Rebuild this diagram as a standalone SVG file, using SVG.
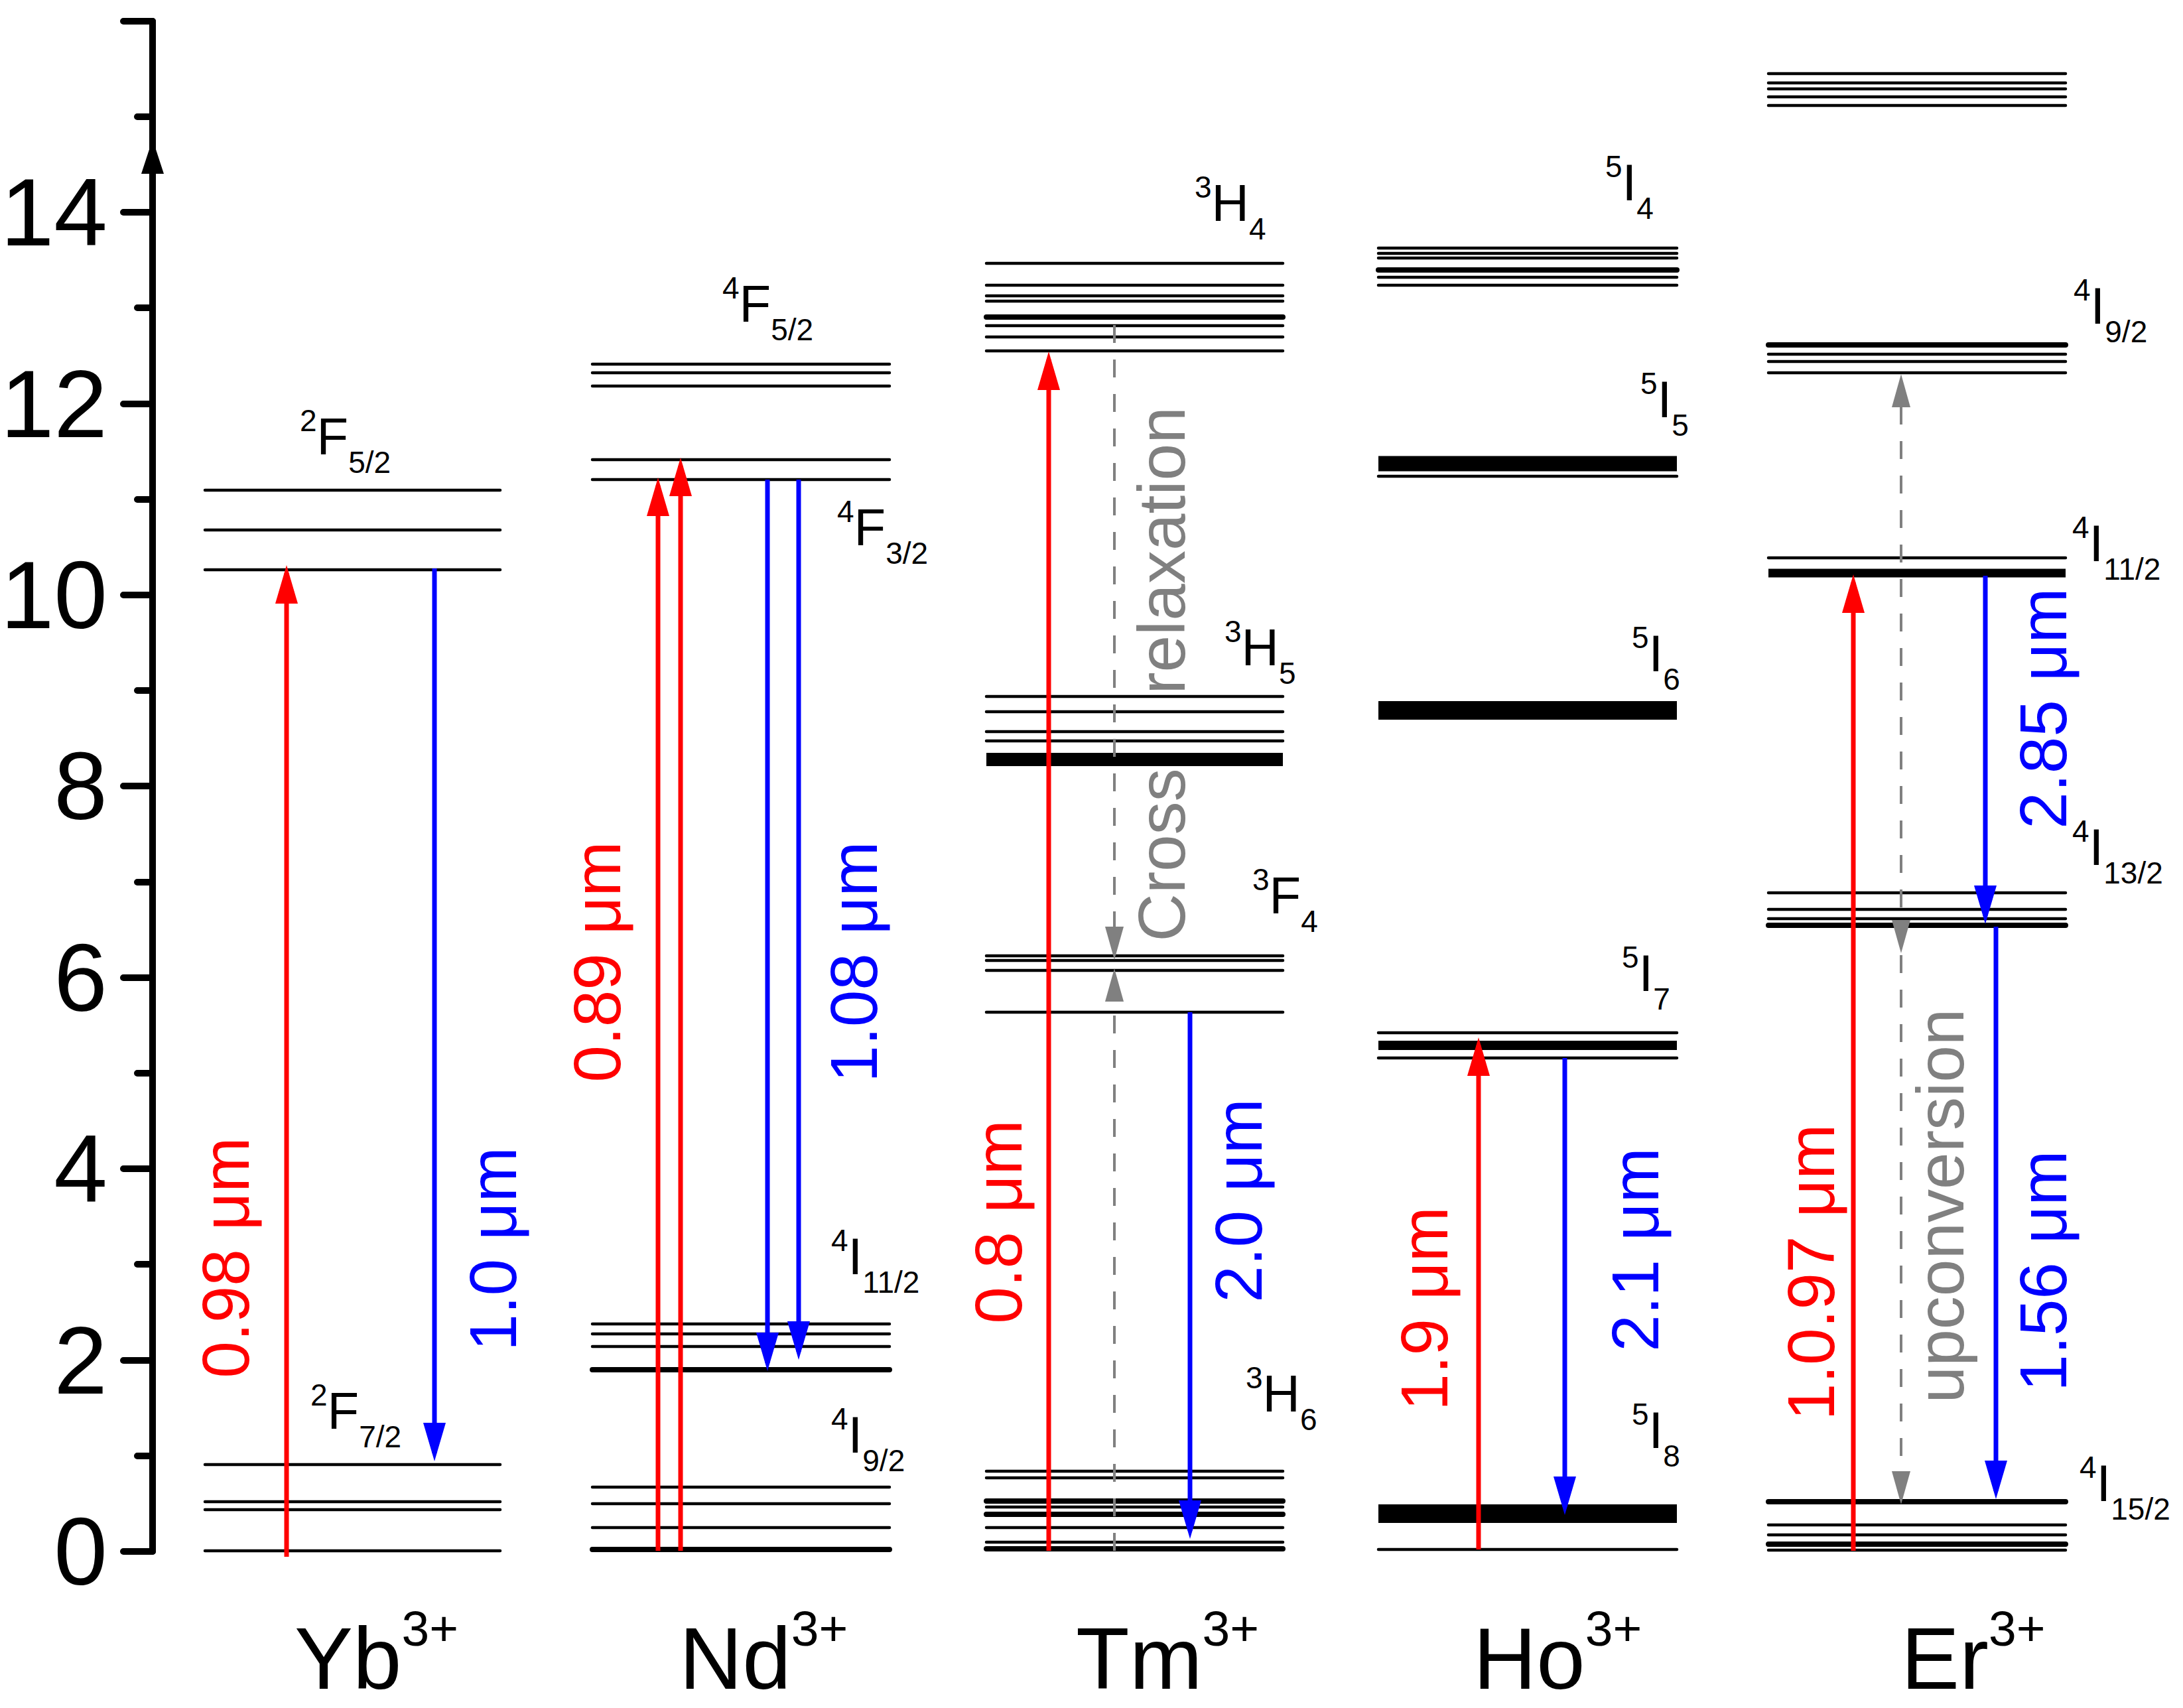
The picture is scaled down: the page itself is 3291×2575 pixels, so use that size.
<svg xmlns="http://www.w3.org/2000/svg" width="3291" height="2575" viewBox="0 0 3291 2575">
<style>
text{font-family:"Liberation Sans",Arial,sans-serif}
.ax{stroke:#000;stroke-width:10;stroke-linecap:round;fill:none}
.tl{font-size:145px;text-anchor:end}
.lv{stroke:#000;stroke-width:4.5;stroke-linecap:round}
.lt{stroke:#000;stroke-width:8;stroke-linecap:round}
.st{font-size:78px}
.ion{font-size:132px}
.r{stroke:#f00;stroke-width:7;fill:none}
.b{stroke:#00f;stroke-width:7;fill:none}
.g{stroke:#808080;stroke-width:4;stroke-dasharray:27 25;fill:none}
.wl{font-size:100px;text-anchor:middle}
</style>
<defs>
<marker id="hr" markerUnits="userSpaceOnUse" markerWidth="60" markerHeight="34" refX="46" refY="17" orient="auto"><path d="M0,0 L58,17 L0,34 z" fill="#f00"/></marker>
<marker id="hb" markerUnits="userSpaceOnUse" markerWidth="60" markerHeight="34" refX="46" refY="17" orient="auto"><path d="M0,0 L58,17 L0,34 z" fill="#00f"/></marker>
<marker id="hg" markerUnits="userSpaceOnUse" markerWidth="52" markerHeight="30" refX="40" refY="14" orient="auto"><path d="M0,0 L50,14 L0,28 z" fill="#808080"/></marker>
</defs>
<rect width="3291" height="2575" fill="#fff"/>
<g id="axis">
<line class="ax" x1="230" y1="32" x2="230" y2="2339"/>
<path class="ax" d="M186,2339H230M207,2195H230M186,2051H230M207,1906H230M186,1762H230M207,1618H230M186,1474H230M207,1330H230M186,1185H230M207,1041H230M186,897H230M207,753H230M186,609H230M207,464H230M186,320H230M207,176H230M186,32H230"/>
<polygon points="230,210 213,262 247,262" fill="#000"/>
<text class="tl" x="162" y="370">14</text>
<text class="tl" x="162" y="659">12</text>
<text class="tl" x="162" y="947">10</text>
<text class="tl" x="162" y="1235">8</text>
<text class="tl" x="162" y="1524">6</text>
<text class="tl" x="162" y="1812">4</text>
<text class="tl" x="162" y="2101">2</text>
<text class="tl" x="162" y="2389">0</text>
</g>
<g id="yb">
<path class="lv" d="M309,739H754M309,799H754M309,859H754M309,2208H754M309,2264H754M309,2276H754M309,2338H754"/>
<text class="st" x="452" y="685"><tspan font-size="46" dy="-35">2</tspan><tspan dy="35">F</tspan><tspan font-size="46" dy="28">5/2</tspan></text>
<text class="st" x="468" y="2154"><tspan font-size="46" dy="-35">2</tspan><tspan dy="35">F</tspan><tspan font-size="46" dy="28">7/2</tspan></text>
<text class="ion" x="444" y="2546">Yb<tspan font-size="75" dy="-65">3+</tspan></text>
</g>
<g id="nd">
<path class="lv" d="M893,549H1341M893,562H1341M893,582H1341M893,693H1341M893,723H1341M893,1996H1341M893,2011H1341M893,2030H1341M893,2242H1341M893,2267H1341M893,2303H1341"/>
<path class="lt" d="M893,2065H1341M893,2336H1341"/>
<text class="st" x="1089" y="485"><tspan font-size="46" dy="-35">4</tspan><tspan dy="35">F</tspan><tspan font-size="46" dy="28">5/2</tspan></text>
<text class="st" x="1262" y="822"><tspan font-size="46" dy="-35">4</tspan><tspan dy="35">F</tspan><tspan font-size="46" dy="28">3/2</tspan></text>
<text class="st" x="1253" y="1921"><tspan font-size="46" dy="-35">4</tspan><tspan dy="35">I</tspan><tspan font-size="46" dy="28">11/2</tspan></text>
<text class="st" x="1253" y="2190"><tspan font-size="46" dy="-35">4</tspan><tspan dy="35">I</tspan><tspan font-size="46" dy="28">9/2</tspan></text>
<text class="ion" x="1024" y="2546">Nd<tspan font-size="75" dy="-65">3+</tspan></text>
</g>
<g id="tm">
<path class="lv" d="M1487,397H1934M1487,430H1934M1487,446H1934M1487,454H1934M1487,491H1934M1487,508H1934M1487,529H1934M1487,1050H1934M1487,1073H1934M1487,1103H1934M1487,1117H1934M1487,1441H1934M1487,1448H1934M1487,1463H1934M1487,1526H1934M1487,2218H1934M1487,2228H1934M1487,2272H1934M1487,2303H1934M1487,2325H1934"/>
<path class="lt" d="M1487,478H1934M1487,2263H1934M1487,2283H1934M1487,2335H1934"/>
<line x1="1487" y1="1145" x2="1934" y2="1145" stroke="#000" stroke-width="20"/>
<text class="st" x="1801" y="333"><tspan font-size="46" dy="-35">3</tspan><tspan dy="35">H</tspan><tspan font-size="46" dy="28">4</tspan></text>
<text class="st" x="1846" y="1003"><tspan font-size="46" dy="-35">3</tspan><tspan dy="35">H</tspan><tspan font-size="46" dy="28">5</tspan></text>
<text class="st" x="1888" y="1377"><tspan font-size="46" dy="-35">3</tspan><tspan dy="35">F</tspan><tspan font-size="46" dy="28">4</tspan></text>
<text class="st" x="1878" y="2128"><tspan font-size="46" dy="-35">3</tspan><tspan dy="35">H</tspan><tspan font-size="46" dy="28">6</tspan></text>
<text class="ion" x="1622" y="2546">Tm<tspan font-size="75" dy="-65">3+</tspan></text>
</g>
<g id="ho">
<path class="lv" d="M2078,374H2528M2078,382H2528M2078,389H2528M2078,418H2528M2078,430H2528M2078,718H2528M2078,1595H2528M2078,1557H2528M2078,2336H2528"/>
<path class="lt" d="M2078,407H2528"/>
<line x1="2078" y1="699" x2="2528" y2="699" stroke="#000" stroke-width="23"/>
<line x1="2078" y1="1071" x2="2528" y2="1071" stroke="#000" stroke-width="28"/>
<line x1="2078" y1="1576" x2="2528" y2="1576" stroke="#000" stroke-width="14"/>
<line x1="2078" y1="2282" x2="2528" y2="2282" stroke="#000" stroke-width="28"/>
<text class="st" x="2420" y="302"><tspan font-size="46" dy="-35">5</tspan><tspan dy="35">I</tspan><tspan font-size="46" dy="28">4</tspan></text>
<text class="st" x="2473" y="629"><tspan font-size="46" dy="-35">5</tspan><tspan dy="35">I</tspan><tspan font-size="46" dy="28">5</tspan></text>
<text class="st" x="2460" y="1012"><tspan font-size="46" dy="-35">5</tspan><tspan dy="35">I</tspan><tspan font-size="46" dy="28">6</tspan></text>
<text class="st" x="2445" y="1494"><tspan font-size="46" dy="-35">5</tspan><tspan dy="35">I</tspan><tspan font-size="46" dy="28">7</tspan></text>
<text class="st" x="2460" y="2183"><tspan font-size="46" dy="-35">5</tspan><tspan dy="35">I</tspan><tspan font-size="46" dy="28">8</tspan></text>
<text class="ion" x="2221" y="2546">Ho<tspan font-size="75" dy="-65">3+</tspan></text>
</g>
<g id="er">
<path class="lv" d="M2666,111H3114M2666,125H3114M2666,134H3114M2666,146H3114M2666,159H3114M2666,534H3114M2666,545H3114M2666,562H3114M2666,841H3114M2666,1346H3114M2666,1371H3114M2666,1385H3114M2666,2299H3114M2666,2314H3114M2666,2337H3114"/>
<path class="lt" d="M2666,520H3114M2666,1395H3114M2666,2264H3114M2666,2328H3114"/>
<line x1="2666" y1="864" x2="3114" y2="864" stroke="#000" stroke-width="13"/>
<text class="st" x="3126" y="488"><tspan font-size="46" dy="-35">4</tspan><tspan dy="35">I</tspan><tspan font-size="46" dy="28">9/2</tspan></text>
<text class="st" x="3124" y="846"><tspan font-size="46" dy="-35">4</tspan><tspan dy="35">I</tspan><tspan font-size="46" dy="28">11/2</tspan></text>
<text class="st" x="3124" y="1304"><tspan font-size="46" dy="-35">4</tspan><tspan dy="35">I</tspan><tspan font-size="46" dy="28">13/2</tspan></text>
<text class="st" x="3135" y="2263"><tspan font-size="46" dy="-35">4</tspan><tspan dy="35">I</tspan><tspan font-size="46" dy="28">15/2</tspan></text>
<text class="ion" x="2866" y="2546">Er<tspan font-size="75" dy="-65">3+</tspan></text>
</g>
<g id="connectors">
<path class="r" d="M432,2347V864" marker-end="url(#hr)"/>
<path class="b" d="M655,857V2191" marker-end="url(#hb)"/>
<path class="r" d="M992,2338V732" marker-end="url(#hr)"/>
<path class="r" d="M1026,2338V702" marker-end="url(#hr)"/>
<path class="b" d="M1157,723V2055" marker-end="url(#hb)"/>
<path class="b" d="M1204,723V2038" marker-end="url(#hb)"/>
<path class="r" d="M1581,2338V542" marker-end="url(#hr)"/>
<path class="b" d="M1794,1526V2308" marker-end="url(#hb)"/>
<path class="g" d="M1680,490V1437" marker-end="url(#hg)"/>
<path class="g" d="M1680,2338V1470" marker-end="url(#hg)"/>
<path class="r" d="M2229,2336V1576" marker-end="url(#hr)"/>
<path class="b" d="M2359,1595V2272" marker-end="url(#hb)"/>
<path class="r" d="M2794,2338V878" marker-end="url(#hr)"/>
<path class="b" d="M2993,868V1381" marker-end="url(#hb)"/>
<path class="b" d="M3009,1397V2248" marker-end="url(#hb)"/>
<path class="g" d="M2866,1420V574" marker-end="url(#hg)"/>
<path class="g" d="M2866,1420V1427" marker-end="url(#hg)"/>
<path class="g" d="M2866,1440V2258" marker-end="url(#hg)"/>
</g>
<g id="wavelengths">
<text class="wl" fill="#f00" transform="translate(375,1896) rotate(-90)">0.98 μm</text>
<text class="wl" fill="#00f" transform="translate(778,1883) rotate(-90)">1.0 μm</text>
<text class="wl" fill="#f00" transform="translate(935,1450) rotate(-90)">0.89 μm</text>
<text class="wl" fill="#00f" transform="translate(1322,1450) rotate(-90)">1.08 μm</text>
<text class="wl" fill="#f00" transform="translate(1540,1842) rotate(-90)">0.8 μm</text>
<text class="wl" fill="#00f" transform="translate(1902,1810) rotate(-90)">2.0 μm</text>
<text class="wl" fill="#808080" transform="translate(1786,1289) rotate(-90)">Cross</text>
<text class="wl" fill="#808080" transform="translate(1786,830) rotate(-90)">relaxation</text>
<text class="wl" fill="#f00" transform="translate(2182,1973) rotate(-90)">1.9 μm</text>
<text class="wl" fill="#00f" transform="translate(2500,1884) rotate(-90)">2.1 μm</text>
<text class="wl" fill="#f00" transform="translate(2765,1918) rotate(-90)">1.0.97 μm</text>
<text class="wl" fill="#808080" transform="translate(2960,1818) rotate(-90)">upconversion</text>
<text class="wl" fill="#00f" transform="translate(3115,1068) rotate(-90)">2.85 μm</text>
<text class="wl" fill="#00f" transform="translate(3115,1916) rotate(-90)">1.56 μm</text>
</g>
</svg>
